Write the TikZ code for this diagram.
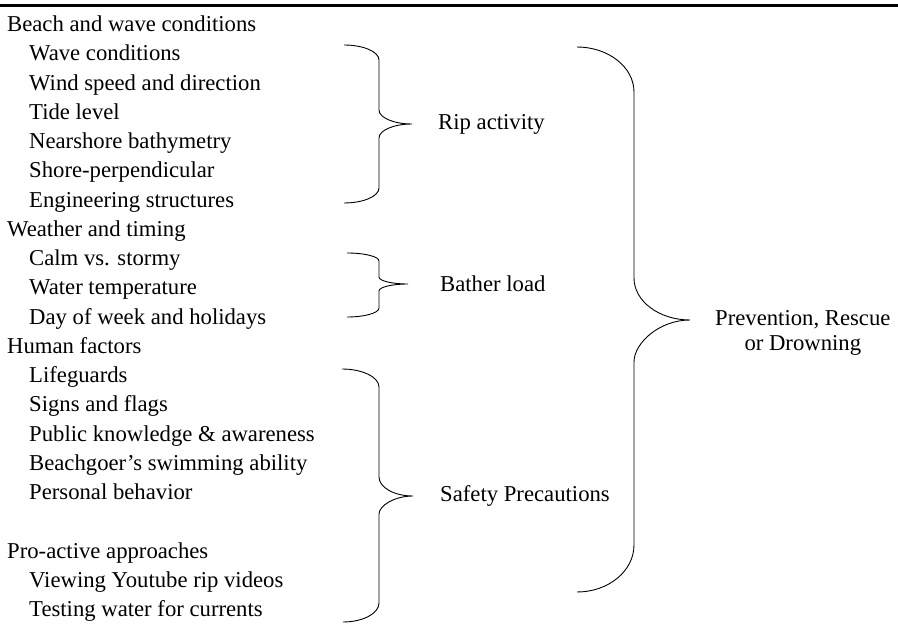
\documentclass[tikz,border=0pt]{standalone}
\usepackage{fontspec}
\setmainfont{Liberation Serif}
\usetikzlibrary{positioning}

\begin{document}
\begin{tikzpicture}[
    x=1pt, y=-1pt,
    every node/.style={inner sep=0pt, font=\fontsize{22.7}{25}\selectfont},
    head/.style={anchor=base west},
    entry/.style={anchor=base west},
    brace line/.style={line width=0.9pt}
]

    \useasboundingbox (0,0) rectangle (898,636);

    \draw[line width=2.2pt] (0,5.5) -- (898,5.5);

    % factors
    \node[head]  (beach)   at (7,31.7)   {Beach and wave conditions};
    \node[entry] (wave)    at (29,60.95) {Wave conditions};
    \node[entry] (wind)    at (29,90.2)  {Wind speed and direction};
    \node[entry] (tide)    at (29,119.45) {Tide level};
    \node[entry] (bathy)   at (29,148.7) {Nearshore bathymetry};
    \node[entry] (shore)   at (29,177.95) {Shore-perpendicular};
    \node[entry] (eng)     at (29,207.2) {Engineering structures};
    \node[head]  (weather) at (7,236.45) {Weather and timing};
    \node[entry] (calm)    at (29,265.7) {Calm vs. stormy};
    \node[entry] (temp)    at (29,294.95) {Water temperature};
    \node[entry] (day)     at (29,324.2) {Day of week and holidays};
    \node[head]  (human)   at (7,353.45) {Human factors};
    \node[entry] (guards)  at (29,382.7) {Lifeguards};
    \node[entry] (signs)   at (29,411.95) {Signs and flags};
    \node[entry] (know)    at (29,441.2) {Public knowledge \& awareness};
    \node[entry] (swim)    at (29,470.45) {Beachgoer’s swimming ability};
    \node[entry] (behav)   at (29,499.7) {Personal behavior};
    \node[head]  (proact)  at (7,558.2)  {Pro-active approaches};
    \node[entry] (youtube) at (29,587.45) {Viewing Youtube rip videos};
    \node[entry] (testing) at (29,616.7) {Testing water for currents};

    % brace tips
    \coordinate (ripTip)    at (412,124);
    \coordinate (batherTip) at (408,284);
    \coordinate (safeTip)   at (413,496);
    \coordinate (outTip)    at (690,320);

    % braces
    \draw[brace line] (344,45) .. controls (363.3,45) and (379,51.7) .. (379,60)
        -- (379,110) .. controls (379,117.7) and (393.8,124) .. (ripTip)
        .. controls (393.8,124) and (379,130.3) .. (379,138)
        -- (379,188) .. controls (379,196.3) and (363.3,203) .. (344,203);
    \draw[brace line] (347,253) .. controls (364.7,253) and (379,256.6) .. (379,261)
        -- (379,277) .. controls (379,280.9) and (392,284) .. (batherTip)
        .. controls (392,284) and (379,287.1) .. (379,291)
        -- (379,308) .. controls (379,313) and (364.7,317) .. (347,317);
    \draw[brace line] (342,369) .. controls (362.4,369) and (379,377.1) .. (379,387)
        -- (379,477) .. controls (379,487.5) and (394.2,496) .. (safeTip)
        .. controls (394.2,496) and (379,505.9) .. (379,514)
        -- (379,603) .. controls (379,613.5) and (362.9,622) .. (343,622);
    \draw[brace line] (577,47) .. controls (608.5,47) and (634,67.2) .. (634,92)
        -- (634,278) .. controls (634,301.2) and (659.1,320) .. (outTip)
        .. controls (659.1,320) and (634,343.2) .. (634,362)
        -- (634,545) .. controls (634,571) and (608.5,592) .. (577,592);

    % outcomes
    \node[right=26pt of ripTip]    (rip)    {Rip activity};
    \node[right=32pt of batherTip] (bather) {Bather load};
    \node[right=27pt of safeTip]   (safety) {Safety Precautions};
    \node[right=25pt of outTip]    (outcome) {Prevention, Rescue};
    \node[anchor=base] (drown) at ([yshift=-25pt]outcome.base) {or Drowning};

\end{tikzpicture}
\end{document}
